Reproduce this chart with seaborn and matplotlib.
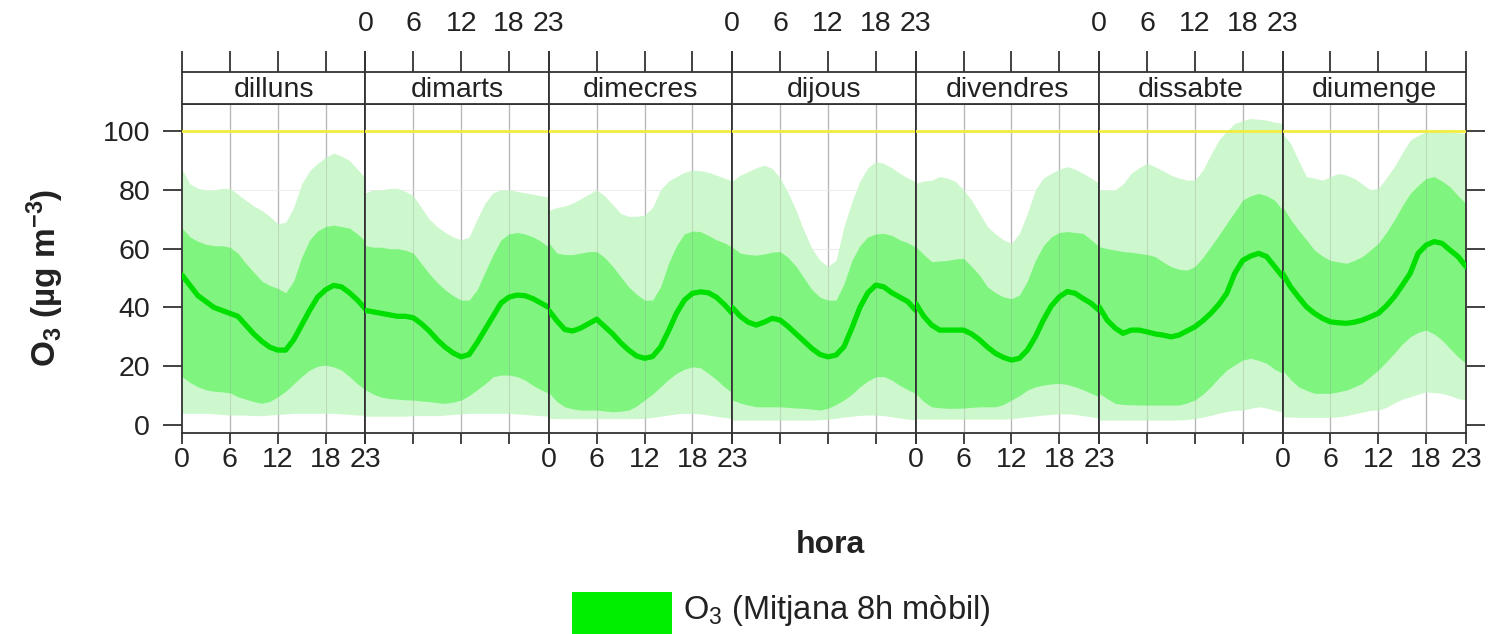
import numpy as np
import pandas as pd
import matplotlib
matplotlib.use("Agg")
import matplotlib.pyplot as plt
import seaborn as sns
from matplotlib.patches import Rectangle

# ---------------- data ----------------
days = ["dilluns", "dimarts", "dimecres", "dijous", "divendres", "dissabte", "diumenge"]
hours = list(range(24))
hour_ticks = [0, 6, 12, 18, 23]
y_ticks = [0, 20, 40, 60, 80, 100]
limit_value = 100

median = [
    51, 47.5, 44, 42, 40, 39, 38, 37, 34, 31, 28.5, 26.5, 25.5, 25.5, 29, 34, 39, 43.5, 46, 47.5, 47, 45, 42.5, 39.5,
    39, 38.5, 38, 37.5, 37, 37, 36.5, 34.5, 32, 29, 26.5, 24.5, 23.2, 24, 28, 32.5, 37, 41.5, 43.5, 44.2, 44, 43, 41.5, 40,
    39, 35.5, 32.5, 32, 33, 34.5, 36, 33.5, 31, 28, 25.5, 23.5, 22.7, 23.3, 26.5, 32, 38, 42.5, 44.8, 45.3, 45, 43.5, 41, 38,
    40, 37, 35, 34, 35, 36.3, 35.7, 33.5, 31, 28.5, 26, 24, 23.2, 23.8, 26.6, 33, 40, 45, 47.6, 47, 45, 43.5, 42, 39,
    41.4, 37, 34, 32.3, 32.3, 32.3, 32.3, 31, 29, 26.5, 24.4, 23, 22.1, 22.7, 25.5, 30, 35.7, 40.5, 43.6, 45.4, 44.8, 43, 41.4, 39,
    40.2, 35.7, 33, 31.2, 32.3, 32.3, 31.7, 31, 30.6, 30, 30.6, 32, 33.4, 35.5, 38, 41, 44.8, 51.6, 56, 57.5, 58.4, 57.3, 53.9, 50.5,
    51.6, 47, 43.5, 40.2, 38, 36.3, 35.1, 34.8, 34.6, 35, 35.7, 36.8, 38, 40.5, 43.6, 47.5, 51.6, 58.4, 61.2, 62.4, 61.8, 59.5, 57.3, 53.9,
]
q75 = [
    67, 64, 62.5, 61.5, 61, 61, 60.5, 58.5, 55, 52, 49, 47.5, 46.5, 45, 49, 57, 63, 66, 67.5, 68, 67.5, 67, 65, 62.5,
    61, 60.5, 60.5, 60, 60, 59.5, 58.5, 55, 51.5, 48.5, 46, 44, 42.5, 42.5, 46, 52, 58, 63, 65, 65.5, 65, 64, 62.5, 60.5,
    62, 58.5, 58, 58, 58.5, 59, 59, 57, 54, 50.5, 47, 44.5, 42.5, 42.5, 47, 55, 61, 65, 66, 65.8, 64.5, 63, 62, 60.5,
    60.5, 58.5, 58, 57.8, 58.2, 58.8, 59, 57, 54, 50, 46, 43.5, 42.5, 42.5, 48, 56, 61, 64, 65, 65.2, 64.5, 63, 62, 60.5,
    60.7, 58, 55.6, 55.8, 56, 56.5, 56.7, 54, 51, 47, 45, 43.6, 43, 44.2, 49, 56, 61, 64, 65.5, 65.8, 65.5, 65.2, 63, 60.7,
    60.7, 60, 59.5, 59, 58.8, 58.4, 58, 57.3, 55.5, 53.9, 53, 52.7, 53.9, 57, 60.7, 64.5, 68.6, 72.5, 76.5, 78, 78.8, 78, 76.5, 73.1,
    74.3, 70, 66.3, 63, 59.5, 57.5, 56, 55.5, 55, 56, 57.3, 59.5, 61.8, 65.5, 69.7, 74.5, 78.8, 81.5, 83.9, 84.5, 83, 81, 78, 75.4,
]
q95 = [
    87, 82, 80.5, 80, 80, 80.5, 80.5, 78.5, 76.5, 74.5, 73, 71, 68.5, 69, 74, 82, 86.5, 89, 91, 92.5, 91.5, 90, 87, 84,
    79, 80, 80, 80.5, 80.5, 79.5, 78, 74, 70, 67.5, 65.5, 64, 63, 64, 70, 75.5, 79, 80, 80, 79.5, 79, 78.5, 78, 77.5,
    73, 74, 74.5, 75.5, 77, 78.5, 80, 78, 75, 72, 71, 71, 71.4, 74, 80, 83, 84.5, 86, 86.7, 86.5, 86, 85, 84, 83,
    83, 85, 86.2, 87.5, 88.4, 87.3, 84, 79, 73, 66, 60, 56, 54, 56, 67.5, 76, 83, 87.5, 89.6, 89, 87.5, 85.6, 84, 82.8,
    82.2, 83, 83.3, 84.5, 84, 82.8, 80, 76.5, 72, 67.5, 65, 63, 61.8, 65.2, 72, 80, 84, 85.6, 87, 87.9, 87, 85.6, 84, 82.2,
    80, 80, 80, 82, 85.6, 87.5, 89, 87.9, 86.5, 85, 84, 83.3, 83.3, 86.7, 92, 96.9, 100, 102.6, 103.5, 104.3, 104, 103.7, 103, 102.6,
    99.2, 95.8, 90, 84.5, 84, 83.3, 84.5, 85.6, 85, 83.9, 82, 80, 80.5, 84, 87.9, 92.5, 96.9, 98.5, 99.8, 99.8, 99.8, 99.6, 99.4, 99.2,
]
q25 = [
    16.5, 14.5, 13, 12, 11.5, 11.3, 11, 9.6, 8.8, 8, 7.4, 8, 9.6, 11.5, 14, 16.5, 18.7, 20, 20.4, 19.8, 18.7, 16.5, 14, 12,
    12, 10.5, 9.5, 9, 8.8, 8.6, 8.5, 8.2, 8, 7.6, 7.4, 7.8, 8.5, 10, 12, 14, 16.4, 17, 17, 16.5, 15.3, 13.5, 12, 10.8,
    11, 8, 6.2, 5.5, 5.1, 5.1, 5.1, 4.8, 4.5, 4.7, 5.1, 6.5, 8.5, 10.5, 13, 15.5, 17.6, 19, 19.8, 19.5, 17.6, 15.5, 13, 11,
    8.5, 7.5, 6.8, 6.2, 6.2, 6.2, 6.2, 6, 5.8, 5.7, 5.4, 5.1, 5.7, 7, 8.5, 10.5, 13, 15, 16.4, 16.5, 15.3, 13.5, 12, 10.8,
    10.8, 8, 6.2, 5.9, 5.7, 5.7, 5.8, 6, 6.2, 6.2, 6.2, 7, 8.5, 10, 11.9, 13, 13.6, 14, 14.2, 13.8, 13, 12, 10.8, 9.6,
    10.8, 9, 7.4, 7, 6.9, 6.8, 6.8, 6.8, 6.8, 6.8, 6.8, 7.5, 8.5, 10.5, 13, 16, 18.7, 20.5, 22.1, 22.7, 22, 21, 19, 17.6,
    18.7, 15.5, 13, 11.8, 10.8, 10.8, 10.8, 11.3, 11.9, 13, 14.2, 16.5, 18.7, 21.5, 24.4, 27.5, 30, 31.5, 32.3, 31, 28.9, 26, 23.2, 21,
]
q05 = [
    4, 4, 4, 4, 3.8, 3.6, 3.4, 3.4, 3.4, 3.2, 3.2, 3.4, 3.6, 3.8, 4, 4, 4, 4, 4, 4, 3.8, 3.6, 3.4, 3.4,
    3, 3, 3, 3, 3, 3, 3.2, 3.2, 3.2, 3.2, 3.4, 3.6, 3.8, 4, 4, 4, 4, 4, 4, 3.8, 3.6, 3.4, 3.2, 3,
    2.3, 2.2, 2.2, 2.2, 2.2, 2.2, 2.2, 2.2, 2.2, 2.2, 2.2, 2.2, 2.3, 2.6, 3, 3.4, 3.8, 4, 4, 3.8, 3.4, 3, 2.6, 2.3,
    1.7, 1.7, 1.7, 1.7, 1.7, 1.7, 1.7, 1.7, 1.7, 1.7, 1.7, 1.8, 2, 2.3, 2.7, 3, 3.3, 3.4, 3.4, 3.2, 2.8, 2.4, 2, 1.8,
    2.2, 2, 2, 2, 2, 2, 2, 2, 2, 2, 2, 2, 2.2, 2.5, 2.8, 3.1, 3.4, 3.6, 3.8, 3.8, 3.6, 3.2, 2.8, 2.4,
    1.7, 1.7, 1.7, 1.7, 1.7, 1.7, 1.7, 1.7, 1.7, 1.7, 1.7, 1.9, 2.2, 2.7, 3.3, 4, 4.6, 5, 5.1, 5.7, 6.2, 5.8, 5, 4.5,
    2.8, 2.7, 2.6, 2.6, 2.6, 2.6, 2.6, 2.8, 3.2, 3.8, 4.4, 5, 5.1, 6, 7.5, 8.8, 9.6, 10.5, 11.3, 11, 10.8, 10, 9, 8.5,
]

df = pd.DataFrame({
    "dia": np.repeat(days, 24),
    "hora": hours * 7,
    "median": median, "q25": q25, "q75": q75, "q05": q05, "q95": q95,
})

# ---------------- style ----------------
sns.set_theme(style="white")
plt.rcParams["font.family"] = ["Liberation Sans", "DejaVu Sans"]
plt.rcParams["mathtext.default"] = "regular"

W, H = 1489, 634
fig = plt.figure(figsize=(W / 100, H / 100), dpi=100)

def fx(px):
    return px / W

def fy(py):
    return 1 - py / H

x0, x1 = 182, 1466
pw = (x1 - x0) / 7
y_top, y_bot = 104, 433
strip_top = 72

col_outer = "#cdf8cd"
col_inner = "#7ff57f"
col_line = "#00e000"
edge = "#333333"
txt = "#222222"
fs = 20.5

for i, d in enumerate(days):
    sub = df[df["dia"] == d]
    left = x0 + i * pw
    ax = fig.add_axes([fx(left), fy(y_bot), pw / W, (y_bot - y_top) / H])
    ax.set_xlim(0, 23)
    ax.set_ylim(-2.7, 109.2)
    for g in [6, 12, 18]:
        ax.axvline(g, color="#c8c8c8", lw=1.0, zorder=0)
    for g in [20, 40, 60, 80]:
        ax.axhline(g, color="#eeeeee", lw=0.8, zorder=0)
    ax.fill_between(sub["hora"], sub["q05"], sub["q95"], color=col_outer, lw=0, zorder=1)
    ax.fill_between(sub["hora"], sub["q25"], sub["q75"], color=col_inner, lw=0, zorder=2)
    for g in [6, 12, 18]:
        ax.axvline(g, color="#888888", lw=0.8, alpha=0.25, zorder=3)
    ax.axhline(limit_value, color="#f2ec40", lw=2.0, zorder=3)
    sns.lineplot(data=sub, x="hora", y="median", ax=ax, color=col_line, lw=3.8, zorder=4,
                 legend=False)
    ax.set_xlabel("")
    ax.set_ylabel("")
    for s in ax.spines.values():
        s.set_color(edge)
        s.set_linewidth(1.3)
    ax.set_xticks(hour_ticks)
    ax.set_yticks(y_ticks)
    ax.tick_params(axis="x", direction="out", length=8, width=1.3, color=edge,
                   labelsize=fs, pad=2, labelcolor=txt,
                   bottom=True, labelbottom=(i % 2 == 0))
    ax.tick_params(axis="y", direction="out", length=14, width=1.3, color=edge,
                   labelsize=fs, pad=9, labelcolor=txt,
                   left=(i == 0), labelleft=(i == 0), right=(i == 6), labelright=False)

    # strip
    sax = fig.add_axes([fx(left), fy(y_top), pw / W, (y_top - strip_top) / H])
    sax.set_xlim(0, 23)
    sax.set_ylim(0, 1)
    sax.set_facecolor("white")
    for s in sax.spines.values():
        s.set_color(edge)
        s.set_linewidth(1.3)
    sax.set_yticks([])
    sax.set_xticks(hour_ticks)
    sax.tick_params(axis="x", direction="out", length=15, width=1.3, color=edge,
                    labelsize=fs, pad=10, labelcolor=txt,
                    bottom=False, labelbottom=False, top=True, labeltop=(i % 2 == 1))
    sax.text(0.5, 0.45, d, ha="center", va="center", fontsize=fs, color=txt,
             transform=sax.transAxes)

fig.text(fx(45), fy(278), "O$_3$ (µg m$^{-3}$)", rotation=90, ha="center", va="center",
         fontsize=24, fontweight="bold", color=txt)
fig.text(fx(830), fy(545), "hora", ha="center", va="center", fontsize=23,
         fontweight="bold", color=txt)

fig.patches.append(Rectangle((fx(572), fy(640)), (672 - 572) / W, (640 - 592) / H,
                             transform=fig.transFigure, color="#00ee00", lw=0))
fig.text(fx(683), fy(611), "O$_3$ (Mitjana 8h mòbil)", ha="left", va="center",
         fontsize=23.5, color=txt)

fig.savefig("out.png", dpi=100, facecolor="white")
